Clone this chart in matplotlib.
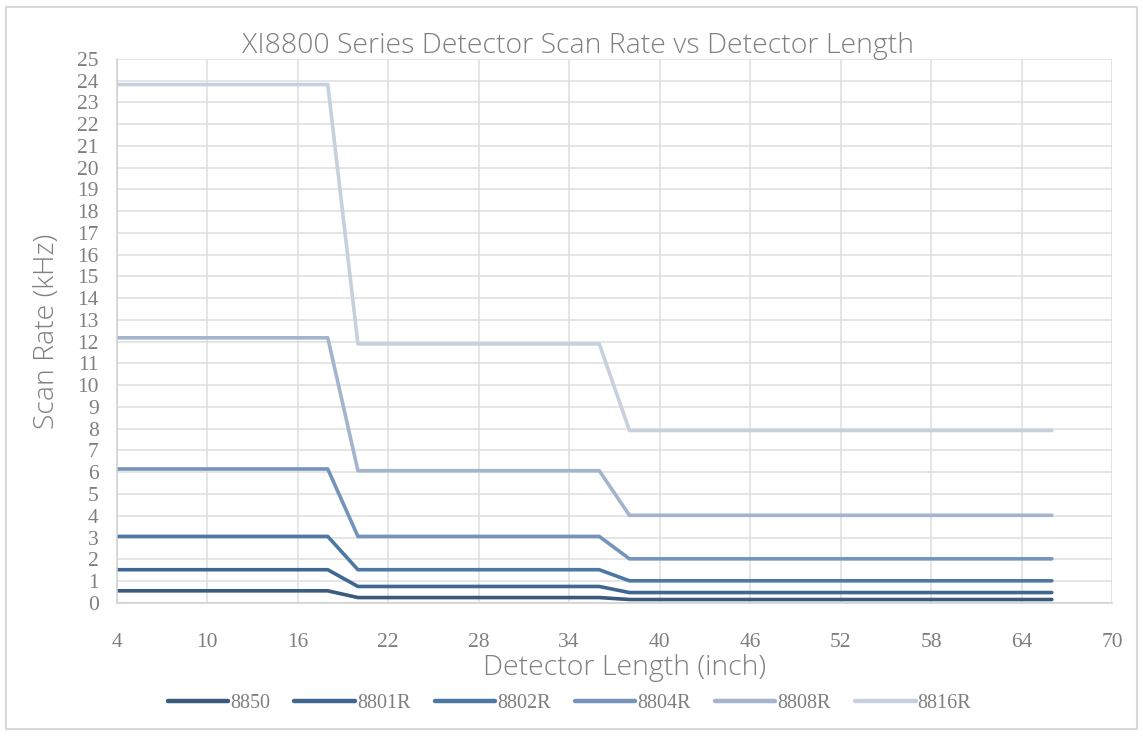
import matplotlib.pyplot as plt
from matplotlib.patches import Rectangle

# detector length points (inch) and scan rate (kHz) per model
lengths = [4, 18, 20, 36, 38, 66]
models = ['8850', '8801R', '8802R', '8804R', '8808R', '8816R']
rate_8850 = [0.55, 0.55, 0.24, 0.24, 0.15, 0.15]
rate_8801r = [1.52, 1.52, 0.75, 0.75, 0.47, 0.47]
rate_8802r = [3.05, 3.05, 1.52, 1.52, 1.01, 1.01]
rate_8804r = [6.15, 6.15, 3.05, 3.05, 2.02, 2.02]
rate_8808r = [12.18, 12.18, 6.07, 6.07, 4.02, 4.02]
rate_8816r = [23.82, 23.82, 11.9, 11.9, 7.92, 7.92]
rates = [rate_8850, rate_8801r, rate_8802r, rate_8804r, rate_8808r, rate_8816r]
colors = ['#3a5a7e', '#3f6791', '#4b79a4', '#7594bb', '#a4b4cd', '#c7d0de']

x_ticks = list(range(4, 71, 6))
y_ticks = list(range(0, 26))

fig = plt.figure(figsize=(11.43, 7.36), dpi=100)
ax = fig.add_axes([0.102, 0.181, 0.871, 0.739])

for name, r, c in zip(models, rates, colors):
    ax.plot(lengths, r, color=c, lw=2.6, label=name, solid_capstyle='round')

ax.set_xlim(4, 70)
ax.set_ylim(0, 25)
ax.set_xticks(x_ticks)
ax.set_yticks(y_ticks)
ax.grid(True, color='#dedede', lw=1.1)
ax.set_axisbelow(True)
for s in ['top', 'right']:
    ax.spines[s].set_visible(False)
for s in ['left', 'bottom']:
    ax.spines[s].set_color('#d0d0d0')
    ax.spines[s].set_linewidth(1.1)
ax.tick_params(length=0, labelcolor='#7f7f7f')
ax.tick_params(axis='x', pad=22)
ax.tick_params(axis='y', pad=13)
for lab in ax.get_xticklabels() + ax.get_yticklabels():
    lab.set_family('Liberation Serif')
    lab.set_fontsize(15.5)

txt = dict(family='Open Sans', fontweight='light', color='#808080')
fig.text(0.506, 0.938, 'XI8800 Series Detector Scan Rate vs Detector Length',
         ha='center', va='center', fontsize=20.5, **txt)
fig.text(0.546, 0.093, 'Detector Length (inch)', ha='center', va='center', fontsize=20.5, **txt)
fig.text(0.041, 0.55, 'Scan Rate (kHz)', ha='center', va='center', rotation=90, fontsize=20.5, **txt)

leg = ax.legend(loc='center', bbox_to_anchor=(0.455, -0.186), ncol=6, frameon=False,
                handlelength=3.0, handletextpad=0.1, columnspacing=1.2,
                prop={'family': 'Liberation Serif', 'size': 14.5})
for t in leg.get_texts():
    t.set_color('#7f7f7f')
for h in leg.get_lines():
    h.set_linewidth(3.2)

# outer frame
fig.patches.append(Rectangle((0.005, 0.01), 0.99, 0.98, transform=fig.transFigure,
                             fill=False, edgecolor='#d9d9d9', lw=1.5))

fig.savefig('out.png', dpi=100)
